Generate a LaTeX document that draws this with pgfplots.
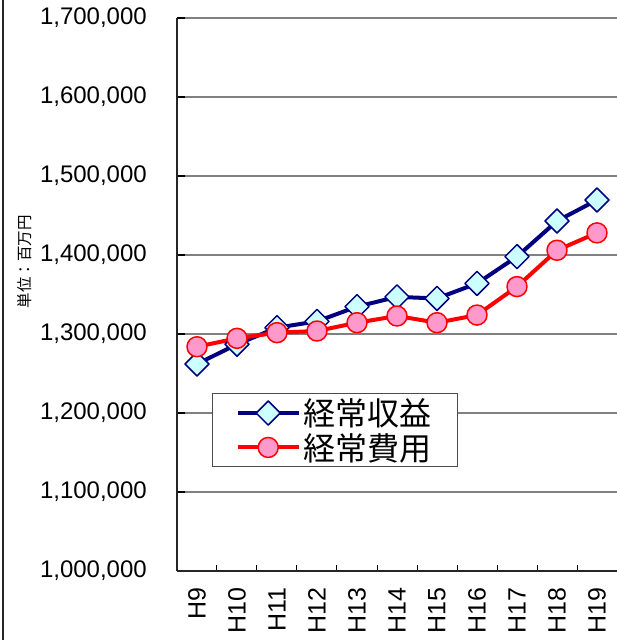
\documentclass[border=0pt]{standalone}
\usepackage{fontspec}
\setmainfont{Liberation Sans}
\newfontfamily\cjk{Noto Sans CJK JP}
\usepackage{pgfplots}
\pgfplotsset{compat=1.18}
\definecolor{revline}{HTML}{000080}
\definecolor{revfill}{HTML}{CCFFFF}
\definecolor{expline}{HTML}{FF0000}
\definecolor{expfill}{HTML}{FF99CC}
\definecolor{gridgray}{HTML}{808080}

\begin{document}
\begin{tikzpicture}
\useasboundingbox (-177pt,-69pt) rectangle (439pt,571pt);
% chart area border on the left
\draw[line width=1.2pt, black!85] (-174pt,-69pt) -- (-174pt,571pt);
\begin{axis}[
    at={(0pt,0pt)}, anchor=south west,
    scale only axis, width=440pt, height=553pt,
    clip=false,
    xmin=-0.5, xmax=10.5,
    ymin=1000000, ymax=1700000,
    separate axis lines,
    axis x line*=bottom, axis y line*=left,
    axis line style={-, line width=1.6pt, black!85},
    ytick={1000000,1100000,1200000,1300000,1400000,1500000,1600000,1700000},
    scaled y ticks=false,
    yticklabel style={font=\fontsize{24}{28}\selectfont, inner sep=0pt, anchor=east,
        /pgf/number format/fixed, /pgf/number format/1000 sep={,},
        /pgf/number format/assume math mode=true},
    yticklabel shift=30pt,
    xtick={0,1,2,3,4,5,6,7,8,9,10},
    xticklabels={H9,H10,H11,H12,H13,H14,H15,H16,H17,H18,H19},
    xticklabel style={font=\fontsize{25}{29}\selectfont, rotate=90, anchor=east, inner sep=0pt},
    xticklabel shift=16pt,
    minor xtick={-0.5,0.5,1.5,2.5,3.5,4.5,5.5,6.5,7.5,8.5,9.5,10.5},
    major x tick style={draw=none},
    minor x tick style={line width=1pt, black},
    major y tick style={line width=1.2pt, black},
    major tick length=8pt, minor tick length=6pt,
    ymajorgrids=true,
    grid style={gridgray, line width=1.3pt},
    ylabel={\cjk 単位：百万円},
    ylabel style={at={(axis description cs:-0.3455,0.559)}, anchor=center, font=\fontsize{15.5}{19}\selectfont},
    legend style={at={(axis description cs:0.0789,0.3213)}, anchor=north west,
        draw=black!70, line width=1pt, font=\cjk\fontsize{32}{35}\selectfont,
        inner xsep=24pt, inner ysep=3pt, row sep=2pt,
        /tikz/every even column/.style={column sep=8pt}},
    legend cell align=left,
    legend image code/.code={\draw[mark repeat=2, mark phase=2, #1] plot coordinates {(0pt,0pt) (30pt,0pt) (61pt,0pt)};},
]
\addplot[revline, line width=4pt, line join=round, mark=square*, mark size=8.5pt,
    mark options={rotate=45, fill=revfill, draw=revline, line width=1.5pt}]
coordinates {
    (0,1262000) (1,1287000) (2,1308000) (3,1316000) (4,1334600) (5,1347000)
    (6,1345000) (7,1364000) (8,1398000) (9,1443000) (10,1469600)
};
\addlegendentry{経常収益}
\addplot[expline, line width=4pt, line join=round, mark=*, mark size=10pt,
    mark options={fill=expfill, draw=expline, line width=1.5pt}]
coordinates {
    (0,1283900) (1,1294500) (2,1301700) (3,1303800) (4,1314300) (5,1322800)
    (6,1314300) (7,1324000) (8,1360000) (9,1406000) (10,1428000)
};
\addlegendentry{経常費用}
\end{axis}
\end{tikzpicture}
\end{document}
